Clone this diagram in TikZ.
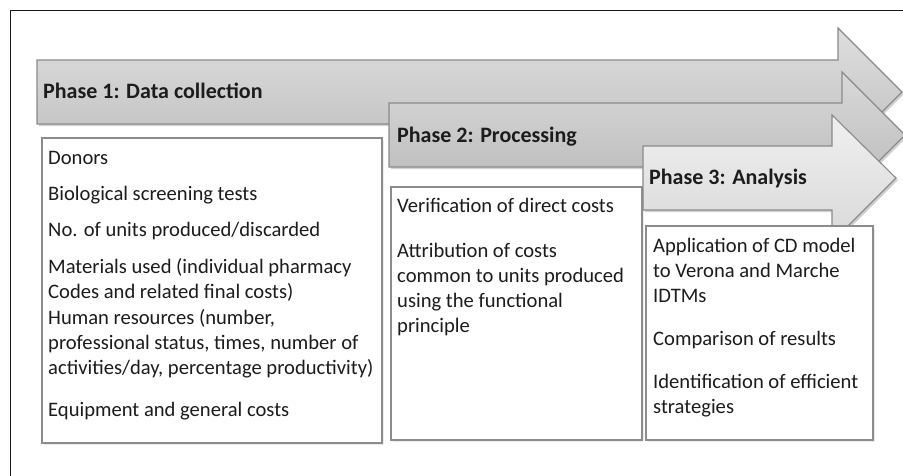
\documentclass[tikz,border=0pt]{standalone}
\usepackage{fontspec}
\setmainfont{Carlito}
\usetikzlibrary{shadows}

\definecolor{frameline}{HTML}{1A1A1A}
\definecolor{arrowline}{HTML}{8A8A8A}
\definecolor{boxline}{HTML}{8C8C8C}
\definecolor{textdark}{HTML}{1C1C1C}

\tikzset{
  phasearrow/.style={draw=arrowline, line width=1.1pt, line join=miter,
    drop shadow={opacity=0.35, shadow xshift=2pt, shadow yshift=-2pt}},
  itembox/.style={draw=boxline, fill=white, line width=1.1pt,
    drop shadow={opacity=0.15, shadow xshift=1.5pt, shadow yshift=-1.5pt}},
  phasetitle/.style={anchor=base west, inner sep=0pt, text=textdark,
    font=\fontsize{22}{26}\selectfont\bfseries},
  itemtext/.style={anchor=base west, inner sep=0pt, text=textdark,
    font=\fontsize{20.6}{25}\selectfont}
}

\begin{document}
\begin{tikzpicture}[x=1pt,y=-1pt]
\path[use as bounding box, clip] (0,0) rectangle (903,475);
\fill[white] (0,0) rectangle (903,475);
% outer frame
\draw[frameline, line width=1pt] (10,10) rectangle (920,490);

% phase arrows
\draw[phasearrow, top color=gray!26, bottom color=gray!50]
  (37,60) -- (838,60) -- (838,28) -- (902,92) -- (838,156) -- (838,124) -- (37,124) -- cycle;
\draw[phasearrow, top color=gray!30, bottom color=gray!55]
  (389,103) -- (842,103) -- (842,72) -- (905,135) -- (842,198) -- (842,167) -- (389,167) -- cycle;
\draw[phasearrow, top color=gray!12, bottom color=gray!30]
  (643,146) -- (832,146) -- (832,115) -- (896,178) -- (832,242) -- (832,210) -- (643,210) -- cycle;

\node[phasetitle] (p1) at (43,98) {Phase 1: Data collection};
\node[phasetitle] (p2) at (397,142) {Phase 2: Processing};
\node[phasetitle] (p3) at (649,184) {Phase 3: Analysis};

% boxes
\draw[itembox] (42,138) rectangle (382,443);
\draw[itembox] (391,187) rectangle (642,440);
\draw[itembox] (646,226) rectangle (873,440);

% phase 1 items
\foreach \y/\txt [count=\i] in {164/{Donors}, 200/{Biological screening tests},
  236/{No. of units produced/discarded}, 273/{Materials used (individual pharmacy},
  298/{Codes and related final costs)}, 324/{Human resources (number,},
  349/{professional status, times, number of}, 374/{activities/day, percentage productivity)},
  416/{Equipment and general costs}}
  \node[itemtext] (a\i) at (48,\y) {\txt};

% phase 2 items
\foreach \y/\txt [count=\i] in {212/{Verification of direct costs}, 257/{Attribution of costs},
  282/{common to units produced}, 307/{using the functional}, 332/{principle}}
  \node[itemtext] (b\i) at (397,\y) {\txt};

% phase 3 items
\foreach \y/\txt [count=\i] in {252/{Application of CD model}, 277/{to Verona and Marche},
  302/{IDTMs}, 345/{Comparison of results}, 388/{Identification of efficient}, 413/{strategies}}
  \node[itemtext] (c\i) at (653,\y) {\txt};
\end{tikzpicture}
\end{document}
